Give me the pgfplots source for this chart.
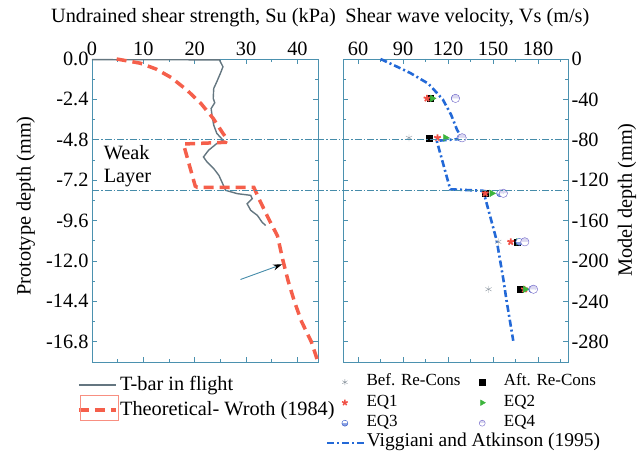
\documentclass[border=0pt]{standalone}
\usepackage{fontspec}
\setmainfont{Liberation Serif}
\usepackage{pgfplots}
\pgfplotsset{compat=1.18}
\usetikzlibrary{arrows.meta}
\definecolor{framecol}{RGB}{75,145,175}
\definecolor{layercol}{RGB}{70,140,170}
\definecolor{tbarcol}{RGB}{100,118,128}
\definecolor{wrothcol}{RGB}{245,95,75}
\definecolor{vigcol}{RGB}{35,105,215}
\definecolor{befcol}{RGB}{140,150,160}
\definecolor{eqonecol}{RGB}{240,80,70}
\definecolor{eqtwocol}{RGB}{60,180,60}
\definecolor{eqthreecol}{RGB}{40,80,200}
\definecolor{eqfourcol}{RGB}{110,100,200}
\pgfplotsset{
  panel/.style={
    scale only axis, height=303pt,
    axis line style={framecol, line width=0.9pt},
    tick style={framecol, line width=0.8pt},
    major tick length=5pt, minor tick length=3pt,
    tick align=inside,
    xticklabel pos=upper,
    /pgf/number format/assume math mode=true,
    clip=false,
    legend image code/.code={\path (0pt,0pt) (37pt,0pt);
      \draw[mark repeat=2,mark phase=2,##1] plot coordinates {(0pt,0pt) (18.5pt,0pt) (37pt,0pt)};},
  },
}
\begin{document}
\begin{tikzpicture}[font=\fontsize{20.3}{23}\selectfont, x=1pt, y=1pt]
\useasboundingbox (0,0) rectangle (640,450);

% left panel: undrained shear strength
\begin{axis}[panel, at={(92pt,88pt)}, anchor=south west, width=226pt,
  xmin=0, xmax=44, ymin=-18, ymax=0,
  xtick={0,10,20,30,40}, minor xtick={5,15,25,35},
  ytick={0,-2.4,-4.8,-7.2,-9.6,-12,-14.4,-16.8},
  yticklabels={0.0,-2.4,-4.8,-7.2,-9.6,-12.0,-14.4,-16.8},
  minor ytick={-1.2,-3.6,-6,-8.4,-10.8,-13.2,-15.6,-18},
  xlabel={Undrained shear strength, Su (kPa)},
  xlabel style={at={(axis description cs:0.449,1.135)}, anchor=center},
  legend style={draw=none, fill=none, at={(axis description cs:-0.08,-0.028)},
    anchor=north west, nodes={text height=15pt, text depth=5pt, inner sep=2.5pt}},
  legend cell align=left,
]
\addplot[tbarcol, line width=1.4pt] coordinates {
 (0,-0.04) (24.8,-0.05) (25.5,-0.46) (25.0,-0.85) (24.3,-1.35) (23.7,-1.75)
 (23.6,-2.34) (23.9,-2.6) (23.2,-2.94) (23.4,-3.43) (23.7,-3.93) (24.3,-4.42) (25.5,-4.82)
 (24.3,-5.02) (22.7,-5.42) (21.7,-5.82) (22.4,-6.12) (23.7,-6.51) (24.7,-6.91)
 (25.3,-7.31) (26.0,-7.80) (28.3,-8.00) (30.9,-8.10) (31.2,-8.30) (30.2,-8.60)
 (30.9,-8.99) (32.2,-9.29) (33.1,-9.69) (33.8,-9.89)
};
\addlegendentry{T-bar in flight}
\addplot[wrothcol, line width=3.5pt, dash pattern=on 10pt off 6pt] coordinates {
 (4.8,0) (9.4,-0.25) (12.5,-0.6) (15.4,-1.1) (18.5,-1.85) (21.2,-2.64)
 (23.6,-3.53) (25.5,-4.42) (26.3,-4.75) (26.0,-4.95) (17.8,-5.05) (20.1,-7.55)
 (20.5,-7.62) (31.5,-7.62) (32.5,-8.3) (34.4,-9.5) (36.1,-10.5) (37.2,-12)
 (38.2,-13.2) (39.4,-14.4) (40.8,-15.6) (42.7,-16.8) (44,-18)
};
\addlegendentry{Theoretical- Wroth (1984)}
\node[anchor=west, align=left, font=\fontsize{20.3}{23}\selectfont] at (axis cs:1.6,-6.35) {Weak\\Layer};
\draw[layercol, line width=0.9pt, -{Stealth[black,length=9pt,width=6pt]}] (axis cs:28.9,-13.1) -- (axis cs:37.0,-12.2);
\coordinate (wl1) at (axis cs:0,-4.8);
\coordinate (wl2) at (axis cs:0,-7.8);
\end{axis}

% right panel: shear wave velocity
\begin{axis}[panel, at={(343pt,88pt)}, anchor=south west, width=225pt,
  xmin=50, xmax=200, ymin=-300, ymax=0,
  xtick={60,90,120,150,180}, minor xtick={75,105,135,165,195},
  ytick={0,-40,-80,-120,-160,-200,-240,-280},
  yticklabels={0,-40,-80,-120,-160,-200,-240,-280},
  minor ytick={-20,-60,-100,-140,-180,-220,-260,-300},
  yticklabel pos=right,
  xlabel={Shear wave velocity, Vs (m/s)},
  xlabel style={at={(axis description cs:0.553,1.135)}, anchor=center},
  legend style={draw=none, fill=none, at={(axis description cs:-0.089,-0.0256)},
    anchor=north west, font=\fontsize{17}{19}\selectfont,
    nodes={text height=11pt, text depth=3.5pt, inner sep=3pt}},
  legend columns=2, legend cell align=left,
]
\addplot[vigcol, line width=2.6pt, dash pattern=on 7pt off 3pt on 2pt off 3pt, forget plot] coordinates {
 (75,0) (86,-7.6) (95,-14) (107,-24.5) (116.5,-40) (122,-55) (126,-70) (129.5,-79)
 (112.5,-81) (121.5,-129) (143.5,-130.5) (152.5,-180) (157,-219) (159,-239) (163.5,-279)
};
\addplot[only marks, mark=asterisk, befcol, mark size=3.5pt, forget plot] coordinates {
 (94,-78) (153.5,-181) (147,-228)
};
\addplot[only marks, mark=square*, black, mark size=3pt, forget plot] coordinates {
 (108,-39) (107.3,-78) (145,-133) (166,-181) (168,-228)
};
\addplot[only marks, mark=star, eqonecol, mark size=3.5pt, mark options={line width=1.8pt}, forget plot] coordinates {
 (106,-39) (113,-78) (144.8,-133) (161.8,-181) (171,-228)
};
\addplot[only marks, mark=triangle*, eqtwocol, mark size=3.8pt, mark options={rotate=-90}, forget plot] coordinates {
 (109.5,-39) (118.3,-78) (149.2,-133) (167,-181) (171.5,-228)
};
\addplot[only marks, mark=halfcircle*, eqthreecol, mark size=3.5pt, mark options={fill=eqthreecol!55, rotate=180}, forget plot] coordinates {
 (124.5,-39) (128.3,-78) (154.7,-133) (167.5,-181) (176,-228)
};
\addplot[only marks, mark=halfcircle*, eqfourcol, mark size=4.2pt, mark options={fill=eqfourcol!25}, forget plot] coordinates {
 (125,-39) (129.4,-78) (156.9,-133) (171.2,-181) (177,-228)
};
\addlegendimage{only marks, mark=asterisk, befcol, mark size=3pt}
\addlegendentry{Bef. Re-Cons}
\addlegendimage{only marks, mark=square*, black, mark size=2.6pt}
\addlegendentry{Aft. Re-Cons}
\addlegendimage{only marks, mark=star, eqonecol, mark size=3pt, mark options={line width=1.5pt}}
\addlegendentry{EQ1}
\addlegendimage{only marks, mark=triangle*, eqtwocol, mark size=3.2pt, mark options={rotate=-90}}
\addlegendentry{EQ2}
\addlegendimage{only marks, mark=halfcircle*, eqthreecol, mark size=3pt, mark options={fill=eqthreecol!55, rotate=180}}
\addlegendentry{EQ3}
\addlegendimage{only marks, mark=halfcircle*, eqfourcol, mark size=3pt, mark options={fill=eqfourcol!25}}
\addlegendentry{EQ4}
\coordinate (wr1) at (axis cs:200,-80);
\end{axis}

% legend row for the Viggiani and Atkinson line, under the marker legend
\begin{axis}[panel, hide axis, at={(343pt,88pt)}, anchor=south west, width=225pt,
  xmin=0, xmax=1, ymin=0, ymax=1,
  legend style={draw=none, fill=none, at={(axis description cs:-0.089,-0.235)},
    anchor=north west, font=\fontsize{19.5}{21}\selectfont,
    nodes={text height=10pt, text depth=3.5pt, inner sep=1pt}},
  legend cell align=left,
]
\addplot[draw=none, forget plot] coordinates {(0.5,0.5)};
\addlegendimage{vigcol, line width=2.6pt, dash pattern=on 7pt off 3pt on 2pt off 3pt}
\addlegendentry{Viggiani and Atkinson (1995)}
\end{axis}

% axis titles along the depth axes
\node[rotate=90] at (25.7,244) {Prototype depth (mm)};
\node[rotate=90] at (627,250) {Model depth (mm)};
% weak layer boundaries across both panels
\draw[layercol, line width=0.9pt, dash pattern=on 7pt off 2pt on 1.5pt off 2pt] (wl1) -- (wl1 -| wr1);
\draw[layercol, line width=0.9pt, dash pattern=on 7pt off 2pt on 1.5pt off 2pt] (wl2) -- (wl2 -| wr1);
% box round the theoretical legend sample
\draw[wrothcol!70, line width=0.8pt] (80,30) rectangle (118,55);
\end{tikzpicture}
\end{document}
